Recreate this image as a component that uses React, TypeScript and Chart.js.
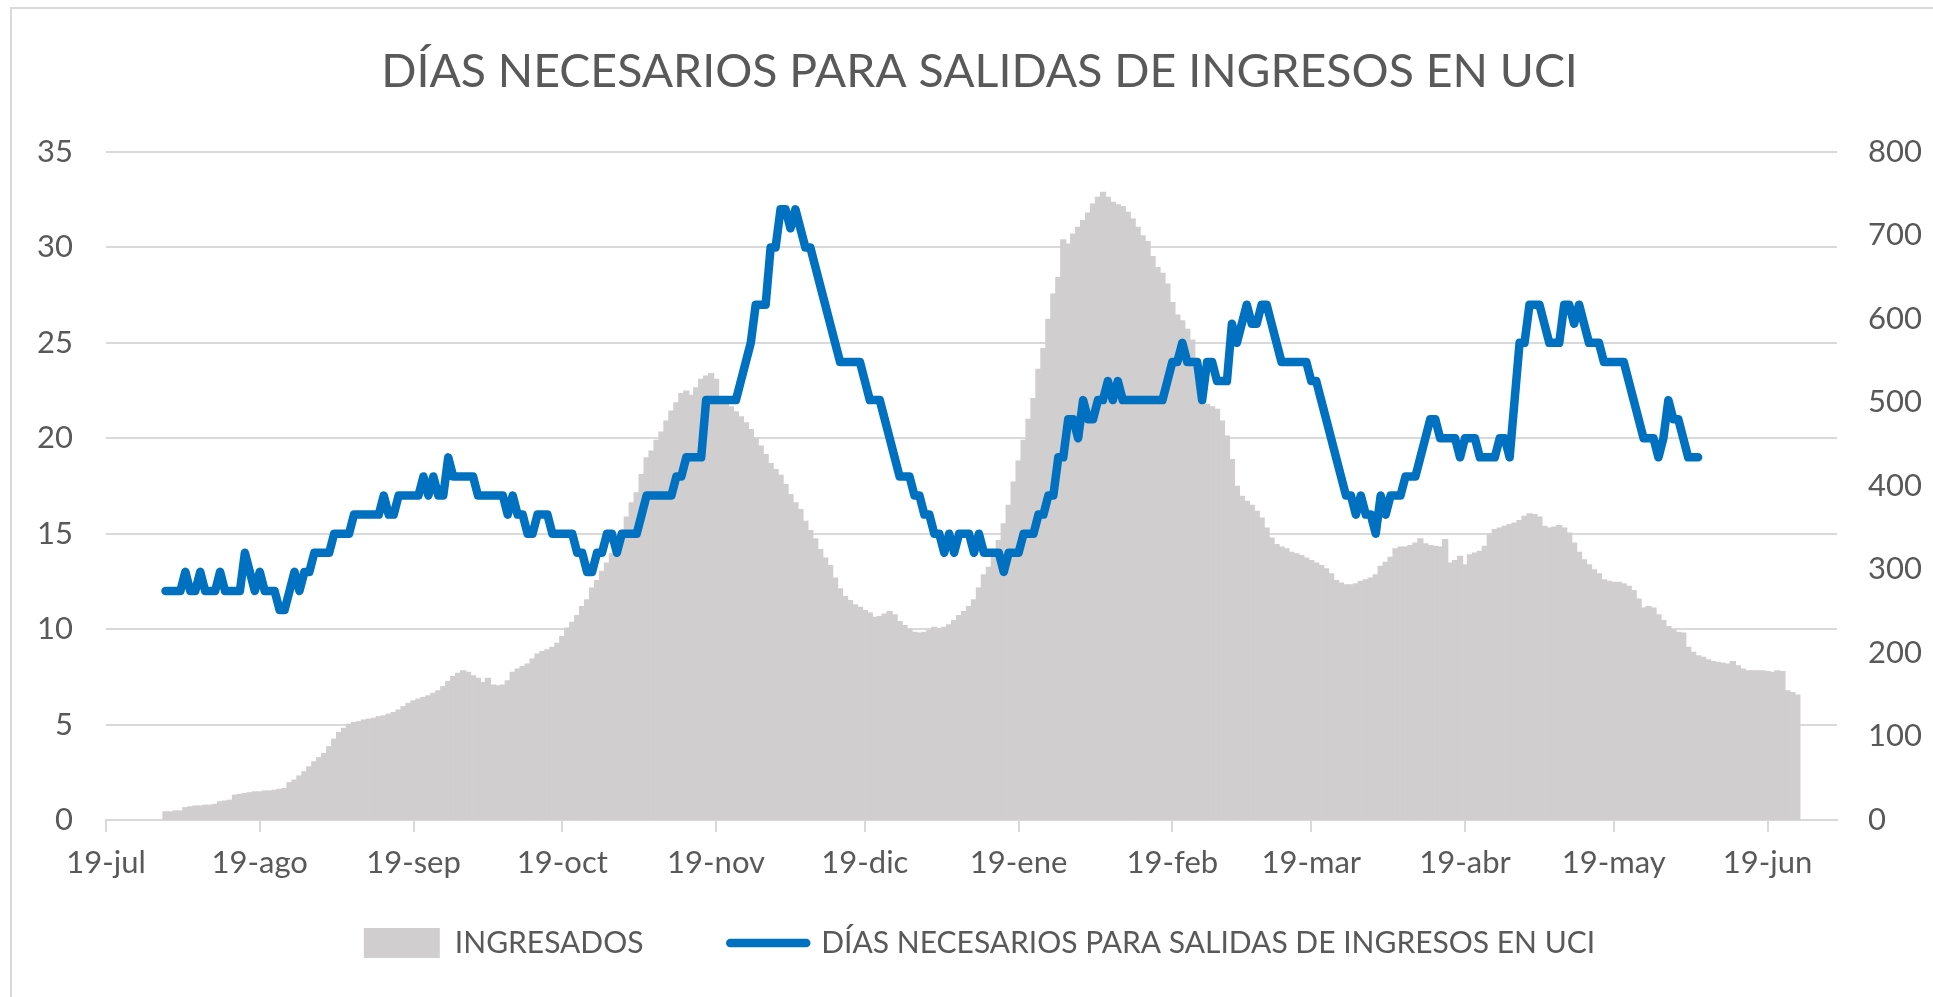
import React, { useEffect, useRef } from 'react';
import { Chart, registerables } from 'chart.js';

Chart.register(...registerables);

const TITLE = 'DÍAS NECESARIOS PARA SALIDAS DE INGRESOS EN UCI';
const BAR_LABEL = 'INGRESADOS';
const LINE_LABEL = 'DÍAS NECESARIOS PARA SALIDAS DE INGRESOS EN UCI';

const AXIS_START = '2020-07-19';
const AXIS_END = '2021-07-03';
const TICK_DATES = [
  '2020-07-19', '2020-08-19', '2020-09-19', '2020-10-19', '2020-11-19', '2020-12-19',
  '2021-01-19', '2021-02-19', '2021-03-19', '2021-04-19', '2021-05-19', '2021-06-19',
];
const TICK_LABELS = [
  '19-jul', '19-ago', '19-sep', '19-oct', '19-nov', '19-dic',
  '19-ene', '19-feb', '19-mar', '19-abr', '19-may', '19-jun',
];

// daily series, both starting on this date
const SERIES_START = '2020-07-31';

// INGRESADOS (right axis), one value per day
const INGRESADOS = [
  10, 10, 11, 11, 15, 16, 17, 17, 18, 18,
  19, 22, 23, 24, 30, 31, 32, 33, 34, 34,
  35, 35, 36, 37, 38, 45, 48, 53, 58, 64,
  70, 75, 80, 88, 97, 105, 110, 115, 117, 118,
  120, 121, 122, 124, 125, 127, 129, 132, 136, 140,
  143, 145, 147, 149, 152, 155, 160, 166, 172, 176,
  179, 177, 173, 170, 165, 170, 162, 161, 162, 167,
  177, 181, 184, 187, 193, 199, 202, 204, 207, 212,
  220, 230, 237, 245, 256, 264, 278, 287, 298, 308,
  319, 328, 345, 363, 380, 392, 414, 434, 442, 455,
  465, 478, 490, 500, 511, 514, 509, 518, 528, 532,
  535, 528, 507, 500, 495, 489, 483, 476, 468, 458,
  448, 438, 427, 420, 413, 402, 390, 380, 372, 358,
  347, 337, 324, 314, 305, 290, 277, 268, 263, 258,
  255, 251, 248, 243, 244, 247, 250, 246, 238, 233,
  229, 225, 224, 225, 227, 231, 229, 231, 234, 239,
  245, 250, 256, 264, 278, 294, 303, 316, 335, 355,
  377, 405, 430, 455, 480, 505, 540, 565, 600, 630,
  650, 695, 690, 702, 710, 718, 727, 738, 746, 752,
  746, 740, 737, 735, 728, 720, 710, 700, 693, 675,
  662, 655, 642, 620, 605, 598, 588, 575, 525, 510,
  498, 495, 492, 478, 460, 432, 400, 388, 382, 377,
  370, 362, 350, 338, 330, 327, 325, 321, 319, 317,
  314, 311, 308, 305, 301, 295, 287, 284, 282, 282,
  283, 286, 288, 290, 294, 304, 309, 315, 325, 327,
  327, 329, 332, 337, 331, 329, 328, 327, 336, 308,
  311, 316, 306, 318, 320, 322, 328, 343, 348, 350,
  352, 354, 356, 359, 364, 367, 366, 363, 352, 350,
  351, 353, 350, 344, 332, 321, 312, 306, 300, 295,
  288, 286, 285, 285, 283, 280, 275, 265, 254, 256,
  254, 246, 239, 232, 228, 225, 224, 207, 201, 197,
  195, 192, 190, 189, 188, 187, 190, 185, 181, 179,
  179, 179, 179, 178, 177, 179, 178, 155, 153, 150,
];

// DÍAS NECESARIOS (left axis), one value per day
const DIAS = [
  12, 12, 12, 12, 13, 12, 12, 13, 12, 12,
  12, 13, 12, 12, 12, 12, 14, 13, 12, 13,
  12, 12, 12, 11, 11, 12, 13, 12, 13, 13,
  14, 14, 14, 14, 15, 15, 15, 15, 16, 16,
  16, 16, 16, 16, 17, 16, 16, 17, 17, 17,
  17, 17, 18, 17, 18, 17, 17, 19, 18, 18,
  18, 18, 18, 17, 17, 17, 17, 17, 17, 16,
  17, 16, 16, 15, 15, 16, 16, 16, 15, 15,
  15, 15, 15, 14, 14, 13, 13, 14, 14, 15,
  15, 14, 15, 15, 15, 15, 16, 17, 17, 17,
  17, 17, 17, 18, 18, 19, 19, 19, 19, 22,
  22, 22, 22, 22, 22, 22, 23, 24, 25, 27,
  27, 27, 30, 30, 32, 32, 31, 32, 31, 30,
  30, 29, 28, 27, 26, 25, 24, 24, 24, 24,
  24, 23, 22, 22, 22, 21, 20, 19, 18, 18,
  18, 17, 17, 16, 16, 15, 15, 14, 15, 14,
  15, 15, 15, 14, 15, 14, 14, 14, 14, 13,
  14, 14, 14, 15, 15, 15, 16, 16, 17, 17,
  19, 19, 21, 21, 20, 22, 21, 21, 22, 22,
  23, 22, 23, 22, 22, 22, 22, 22, 22, 22,
  22, 22, 23, 24, 24, 25, 24, 24, 24, 22,
  24, 24, 23, 23, 23, 26, 25, 26, 27, 26,
  26, 27, 27, 26, 25, 24, 24, 24, 24, 24,
  24, 23, 23, 22, 21, 20, 19, 18, 17, 17,
  16, 17, 16, 16, 15, 17, 16, 17, 17, 17,
  18, 18, 18, 19, 20, 21, 21, 20, 20, 20,
  20, 19, 20, 20, 20, 19, 19, 19, 19, 20,
  20, 19, 22, 25, 25, 27, 27, 27, 26, 25,
  25, 25, 27, 27, 26, 27, 26, 25, 25, 25,
  24, 24, 24, 24, 24, 23, 22, 21, 20, 20,
  20, 19, 20, 22, 21, 21, 20, 19, 19, 19,
];

const LEFT_MAX = 35;
const LEFT_STEP = 5;
const RIGHT_MAX = 800;
const RIGHT_STEP = 100;

const GRAY = '#D0CECE';
const BLUE = '#0070C0';
const TEXT = '#595959';
const GRID = '#D9D9D9';
const FONT = 'Lato, "Open Sans", sans-serif';

// spacing after the first legend entry
const LEGEND_GAP = '          ';

const dayOf = (iso: string) =>
  Math.round((Date.parse(iso + 'T00:00:00Z') - Date.parse(AXIS_START + 'T00:00:00Z')) / 86400000);

export default function App() {
  const ref = useRef<HTMLCanvasElement>(null);

  useEffect(() => {
    document.body.style.margin = '0';
    document.body.style.overflow = 'hidden';
    const start = dayOf(SERIES_START);
    const barData = INGRESADOS.map((v, i) => ({ x: start + i, y: v }));
    const lineData = DIAS.map((v, i) => ({ x: start + i, y: v }));
    const tickDays = TICK_DATES.map(dayOf);
    const tickFont = { family: FONT, size: 31 };

    const chart = new Chart(ref.current as HTMLCanvasElement, {
      type: 'bar',
      data: {
        datasets: [
          {
            type: 'line',
            label: LINE_LABEL,
            data: lineData as any,
            yAxisID: 'y',
            borderColor: BLUE,
            backgroundColor: BLUE,
            borderWidth: 8.5,
            pointRadius: 0,
            tension: 0,
            borderJoinStyle: 'round',
            borderCapStyle: 'round',
            order: 0,
          } as any,
          {
            type: 'bar',
            label: BAR_LABEL,
            data: barData as any,
            yAxisID: 'y1',
            backgroundColor: GRAY,
            borderWidth: 0,
            barThickness: 5.6,
            order: 1,
          } as any,
        ],
      },
      options: {
        animation: false,
        responsive: false,
        maintainAspectRatio: false,
        layout: { padding: { left: 26, right: 0, top: 0, bottom: 29 } },
        plugins: {
          title: {
            display: true,
            text: TITLE,
            color: TEXT,
            font: { family: FONT, size: 46.4, weight: 'normal' },
            padding: { top: 44, bottom: 52.3 },
          },
          legend: {
            position: 'bottom',
            labels: {
              usePointStyle: true,
              pointStyleWidth: 76,
              boxHeight: 30,
              padding: 10,
              color: TEXT,
              font: { family: FONT, size: 30 },
              generateLabels: () => [
                {
                  text: BAR_LABEL + LEGEND_GAP,
                  fillStyle: GRAY,
                  strokeStyle: GRAY,
                  lineWidth: 0,
                  pointStyle: 'rect',
                  hidden: false,
                  datasetIndex: 1,
                  fontColor: TEXT,
                } as any,
                {
                  text: LINE_LABEL,
                  fillStyle: BLUE,
                  strokeStyle: BLUE,
                  lineWidth: 8.5,
                  lineCap: 'round',
                  pointStyle: 'line',
                  hidden: false,
                  datasetIndex: 0,
                  fontColor: TEXT,
                } as any,
              ],
            },
          },
          tooltip: { enabled: false },
        },
        scales: {
          x: {
            type: 'linear',
            offset: false,
            min: 0,
            max: dayOf(AXIS_END),
            afterBuildTicks: (s: any) => {
              s.ticks = tickDays.map((v) => ({ value: v }));
            },
            afterFit: (s: any) => {
              s.height = 98;
            },
            ticks: {
              autoSkip: false,
              maxRotation: 0,
              padding: 12,
              color: TEXT,
              font: tickFont,
              callback: (v: any) => TICK_LABELS[tickDays.indexOf(Number(v))] ?? '',
            },
            grid: {
              offset: false,
              drawOnChartArea: false,
              drawTicks: true,
              tickLength: 12,
              color: GRID,
              lineWidth: 2,
            },
            border: { display: true, color: GRID, width: 2 },
          },
          y: {
            position: 'left',
            min: 0,
            max: LEFT_MAX,
            afterFit: (s: any) => {
              s.width = 80;
            },
            ticks: { stepSize: LEFT_STEP, padding: 33, color: TEXT, font: tickFont },
            grid: { color: GRID, lineWidth: 2, drawTicks: false },
            border: { display: false },
          },
          y1: {
            position: 'right',
            min: 0,
            max: RIGHT_MAX,
            afterFit: (s: any) => {
              s.width = 96;
            },
            ticks: { stepSize: RIGHT_STEP, padding: 23, color: TEXT, font: tickFont },
            grid: { display: false },
            border: { display: false },
          },
        },
      } as any,
    });
    return () => chart.destroy();
  }, []);

  return (
    <div style={{ position: 'fixed', left: 0, top: 0, width: 1933, height: 997, background: '#fff' }}>
      <div
        style={{
          position: 'absolute',
          left: 10,
          top: 7,
          right: 0,
          bottom: 0,
          borderLeft: '2px solid #D9D9D9',
          borderTop: '2px solid #D9D9D9',
        }}
      />
      <canvas
        ref={ref}
        width={1933}
        height={997}
        style={{ position: 'absolute', left: 0, top: 0, width: 1933, height: 997 }}
      />
    </div>
  );
}
